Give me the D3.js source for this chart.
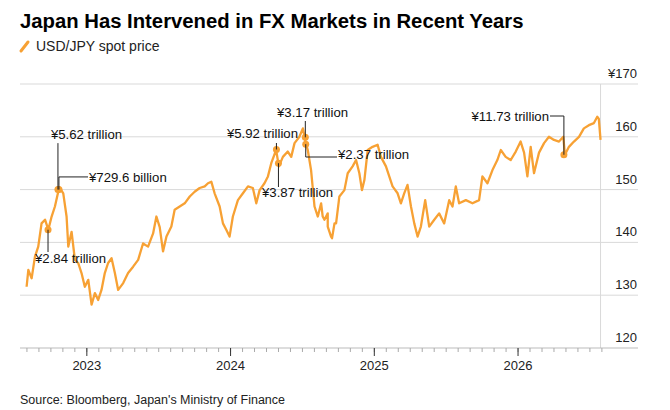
<!DOCTYPE html>
<meta charset="utf-8">
<head>
    <title>Japan FX intervention</title>
</head>
<style>
    body { margin: 0; background: #fff; font-family: "Liberation Sans", Arial, sans-serif; }
    .grid line { stroke: #d9d9d9; }
    .ann { font-size: 13.2px; fill: #111; }
</style>
<body>
<script src="https://cdn.jsdelivr.net/npm/d3@7"></script>
<script>
// decimal years and USD/JPY values
var years = [2022.581,2022.593,2022.616,2022.639,2022.662,2022.685,2022.709,2022.732,2022.755,2022.778,2022.801,2022.813,2022.836,2022.859,2022.871,2022.894,2022.917,2022.940,2022.963,2022.986,
  2023.010,2023.033,2023.056,2023.079,2023.102,2023.125,2023.148,2023.172,2023.195,2023.218,2023.253,2023.287,2023.322,2023.357,2023.391,2023.426,2023.461,2023.484,2023.507,2023.530,
  2023.554,2023.588,2023.611,2023.646,2023.681,2023.716,2023.750,2023.785,2023.820,2023.843,2023.866,2023.889,2023.924,2023.947,2023.970,2023.993,2024.016,2024.051,2024.086,2024.121,
  2024.155,2024.179,2024.202,2024.236,2024.260,2024.283,2024.317,2024.336,2024.364,2024.398,2024.422,2024.445,2024.479,2024.503,2024.521,2024.537,2024.560,2024.584,2024.607,2024.630,
  2024.653,2024.676,2024.699,2024.723,
  2024.641,2024.676,2024.706,2024.734,2024.757,2024.792,2024.815,2024.849,2024.873,2024.896,2024.914,2024.931,2024.954,2024.988,
  2025.023,2025.046,2025.081,2025.104,2025.127,2025.162,2025.185,2025.208,2025.231,2025.255,2025.278,2025.301,2025.324,2025.354,2025.382,2025.417,2025.451,2025.486,2025.521,2025.544,
  2025.567,2025.590,2025.637,2025.683,2025.729,2025.752,2025.787,2025.822,2025.856,2025.880,2025.914,2025.949,2025.984,
  2026.018,2026.042,2026.065,2026.088,2026.111,2026.146,2026.181,2026.215,2026.250,2026.285,2026.315,2026.326,2026.354,2026.389,2026.424,2026.458,2026.493,2026.528,2026.551,2026.562,2026.574];
var prices = [131.6,134.8,133.2,137.3,139.2,143.6,144.3,142.4,144.9,146.8,149.6,150.3,149.3,144.9,139.2,142.0,136.7,136.1,134.2,131.6,
  132.9,128.2,130.4,129.1,131.0,134.2,136.1,137.0,134.2,131.0,132.3,134.2,135.4,136.7,139.8,139.2,141.7,144.9,142.9,138.3,
  141.1,143.0,146.2,146.8,147.4,148.7,149.6,150.3,150.6,151.2,151.5,149.3,146.8,143.6,142.4,141.1,144.9,148.0,149.3,150.6,
  150.3,147.4,149.9,151.2,152.5,155.0,157.5,154.4,156.2,157.2,156.2,158.8,160.0,161.6,159.1,157.5,153.7,146.8,144.9,147.4,
  144.3,145.5,141.1,143.6,
  144.9,143.0,140.8,143.6,148.7,149.9,153.1,154.4,155.6,153.1,149.9,151.8,157.5,158.1,
  158.5,156.2,154.4,152.5,150.6,149.3,147.4,149.3,150.9,146.8,143.6,141.1,143.0,148.0,143.0,144.3,145.5,143.6,148.0,146.8,
  150.6,147.4,148.0,147.4,148.0,152.5,151.2,153.7,155.6,157.5,156.2,155.6,157.2,
  159.1,157.0,152.5,158.1,153.1,157.0,158.8,160.0,159.4,159.1,160.0,156.6,158.1,159.1,160.0,161.6,162.2,162.6,163.8,163.4,159.4];
var yTicks = [120, 130, 140, 150, 160, 170];
var xTickYears = [2023, 2024, 2025, 2026];

// interventions: anchor on the line
var annLabels = ["¥5.62 trillion", "¥729.6 billion", "¥2.84 trillion", "¥5.92 trillion", "¥3.87 trillion", "¥3.17 trillion", "¥2.37 trillion", "¥11.73 trillion"];
var annYears  = [2022.799, 2022.806, 2022.730, 2024.319, 2024.333, 2024.520, 2024.523, 2026.319];
var annValues = [150.0, 150.0, 142.4, 157.6, 155.0, 159.9, 158.6, 156.6];

var W = 670, H = 410;
var svg = d3.select("body").append("svg").attr("width", W).attr("height", H);

var x = d3.scaleLinear().domain([2022.535, 2026.598]).range([20, 604]);
var y = d3.scaleLinear().domain([120, 170]).range([348, 84]);

svg.append("text").attr("x", 20).attr("y", 28).attr("font-size", 20.3).attr("font-weight", "bold")
    .attr("fill", "#000").text("Japan Has Intervened in FX Markets in Recent Years");
svg.append("line").attr("x1", 21).attr("y1", 51).attr("x2", 28).attr("y2", 42)
    .attr("stroke", "#f7a134").attr("stroke-width", 3).attr("stroke-linecap", "round");
svg.append("text").attr("x", 36).attr("y", 51).attr("font-size", 14).attr("fill", "#222").text("USD/JPY spot price");

// grid + y labels
var g = svg.append("g").attr("class", "grid");
g.selectAll("line.h").data(yTicks.slice(1)).enter().append("line")
    .attr("x1", 20).attr("x2", 638).attr("y1", function (d) { return y(d); }).attr("y2", function (d) { return y(d); });
svg.selectAll("text.yl").data(yTicks).enter().append("text")
    .attr("x", 637).attr("y", function (d) { return y(d) - 6; }).attr("text-anchor", "end")
    .attr("font-size", 13).attr("fill", "#222")
    .text(function (d) { return d == 170 ? "¥170" : d; });
svg.append("line").attr("x1", x(years[years.length - 1])).attr("x2", x(years[years.length - 1]))
    .attr("y1", y(170)).attr("y2", y(120)).attr("stroke", "#d9d9d9");

// x axis
svg.append("line").attr("x1", 20).attr("x2", 638).attr("y1", y(120)).attr("y2", y(120)).attr("stroke", "#bbb");
var months = d3.range(Math.ceil(2022.535 * 12), Math.floor(2026.598 * 12) + 1).map(function (m) { return m / 12; });
svg.selectAll("line.mt").data(months).enter().append("line")
    .attr("x1", function (d) { return x(d); }).attr("x2", function (d) { return x(d); })
    .attr("y1", y(120)).attr("y2", y(120) + 4).attr("stroke", "#aaa");
svg.selectAll("line.yt").data(xTickYears).enter().append("line")
    .attr("x1", function (d) { return x(d); }).attr("x2", function (d) { return x(d); })
    .attr("y1", y(120)).attr("y2", y(120) + 8).attr("stroke", "#333");
svg.selectAll("text.xl").data(xTickYears).enter().append("text")
    .attr("x", function (d) { return x(d); }).attr("y", 370).attr("text-anchor", "middle")
    .attr("font-size", 13).attr("fill", "#222").text(function (d) { return d; });

// line
var pts = years.map(function (d, i) { return [d, prices[i]]; }).sort(function (a, b) { return a[0] - b[0]; });
svg.append("path").datum(pts).attr("fill", "none").attr("stroke", "#f7a134").attr("stroke-width", 2.3)
    .attr("stroke-linejoin", "round")
    .attr("d", d3.line().x(function (d) { return x(d[0]); }).y(function (d) { return y(d[1]); }));

// annotations
svg.selectAll("circle.ann").data(annYears).enter().append("circle")
    .attr("cx", function (d) { return x(d); }).attr("cy", function (d, i) { return y(annValues[i]); })
    .attr("r", 3.5).attr("fill", "#f7a134");

function leader(i, pathPts, tx, ty, anchor) {
    svg.append("path").attr("fill", "none").attr("stroke", "#222").attr("stroke-width", 1)
        .attr("d", d3.line()(pathPts));
    svg.append("text").attr("class", "ann").attr("x", tx).attr("y", ty).attr("dy", "0.35em")
        .attr("text-anchor", anchor || "start").text(annLabels[i]);
}
var p;
p = [x(annYears[0]), y(annValues[0])];
leader(0, [p, [p[0], y(158.8)]], p[0] - 7, 134);
p = [x(annYears[1]), y(annValues[1])];
leader(1, [p, [p[0], y(152.4)], [88, y(152.4)]], 89, y(152.4));
p = [x(annYears[2]), y(annValues[2])];
leader(2, [p, [p[0], 252]], 35, 258);
p = [x(annYears[3]), y(annValues[3])];
leader(3, [p, [p[0], 143]], 298, 133, "end");
p = [x(annYears[4]), y(annValues[4])];
leader(4, [p, [p[0], 187]], 262, 192);
p = [x(annYears[5]), y(annValues[5])];
leader(5, [p, [p[0], 121]], 277, 112);
p = [x(annYears[6]), y(annValues[6])];
leader(6, [p, [p[0], 157], [337, 157]], 338, 154);
p = [x(annYears[7]), y(annValues[7])];
leader(7, [p, [p[0], 116], [550, 116]], 549, 116, "end");

svg.append("text").attr("x", 20).attr("y", 404).attr("font-size", 12.5).attr("fill", "#222")
    .text("Source: Bloomberg, Japan's Ministry of Finance");
</script>
</body>
</html>
